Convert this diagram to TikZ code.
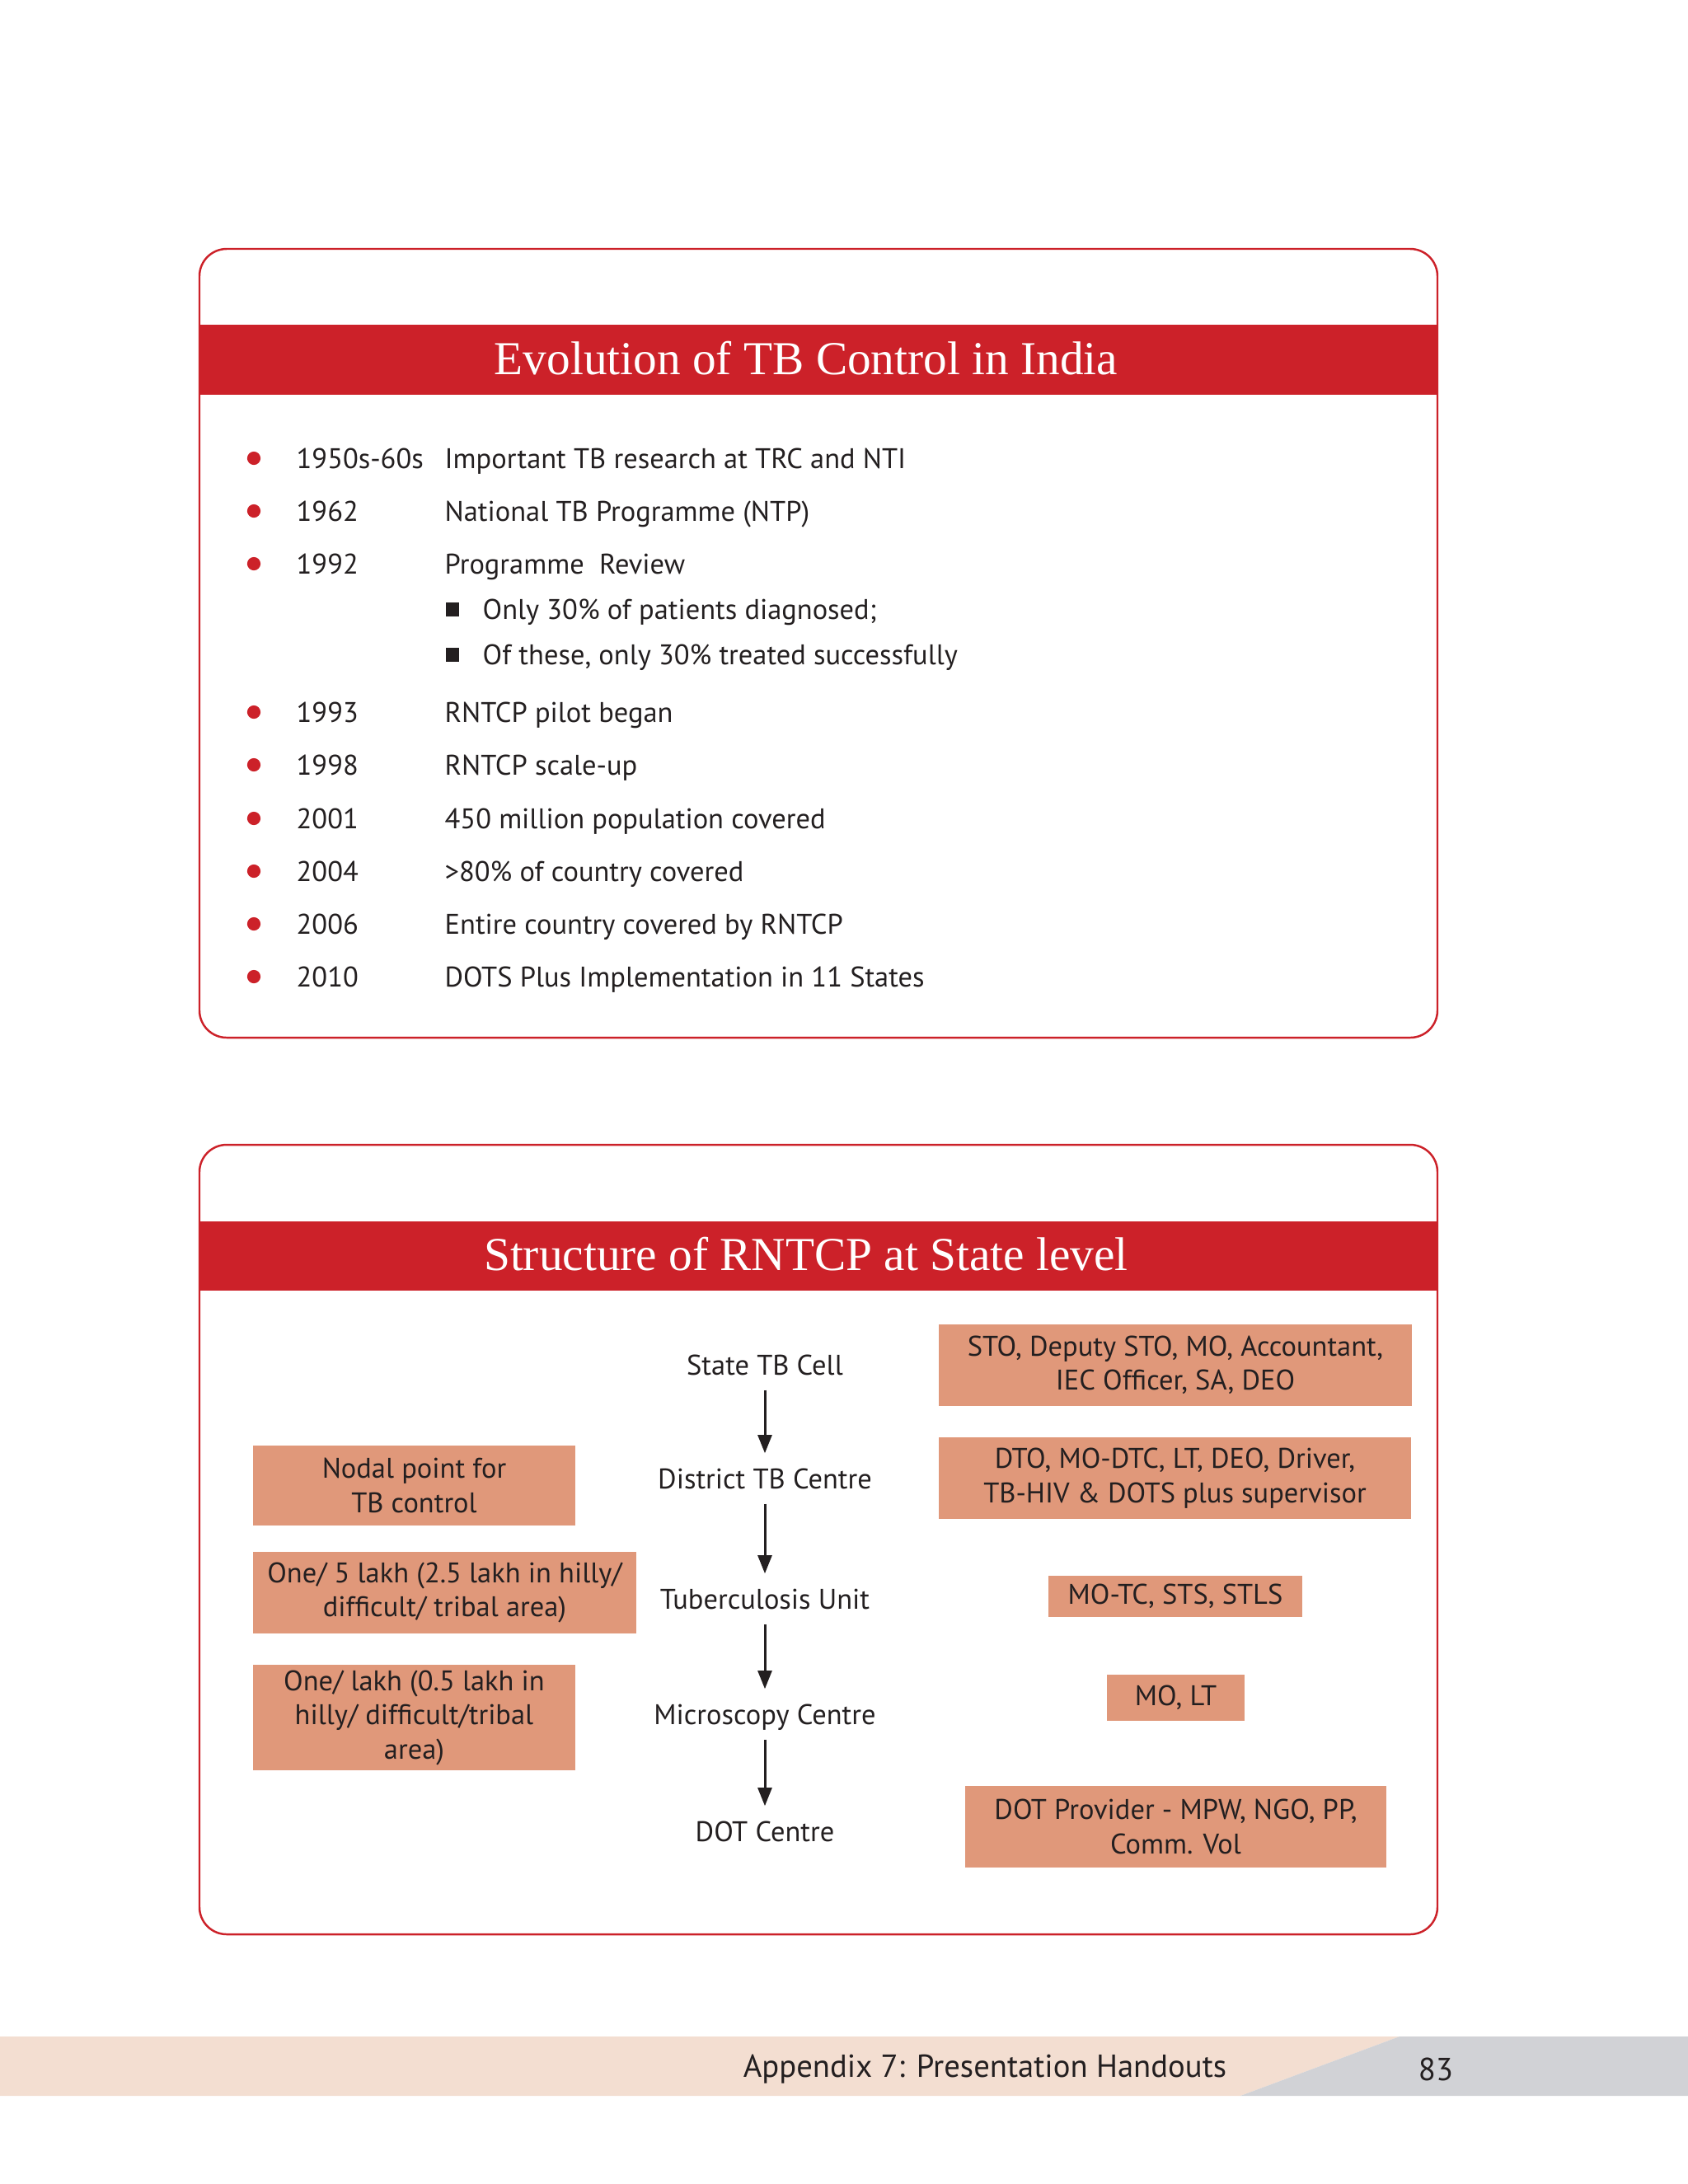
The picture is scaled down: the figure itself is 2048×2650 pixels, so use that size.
\documentclass[tikz,border=0pt]{standalone}
\usepackage{fontspec}
\setmainfont{PT Sans}
\newfontfamily\titlefont{Liberation Serif}
\usetikzlibrary{arrows.meta}

\definecolor{tbred}{HTML}{CC2129}
\definecolor{salmon}{HTML}{E0987A}
\definecolor{footpeach}{HTML}{F3DED1}
\definecolor{footgray}{HTML}{D1D2D6}
\definecolor{ink}{HTML}{231F20}

\begin{document}
\begin{tikzpicture}[x=0.01cm, y=-0.01cm,
    every node/.style={text=ink, font=\fontsize{9.8}{11.8}\selectfont},
    panel/.style={draw=tbred, line width=0.7pt, rounded corners=0.33cm},
    ttl/.style={anchor=base, text=white, font=\titlefont\fontsize{16.3}{18}\selectfont},
    listtxt/.style={anchor=base west, inner sep=0},
    flow/.style={inner sep=0, minimum height=0.6cm, text height=0.7em, text depth=0pt},
    salbox/.style={fill=salmon, inner sep=0, align=center},
    flowarrow/.style={-{Triangle[length=6.3pt, width=4.8pt]}, line width=0.85pt, draw=ink}]
    \useasboundingbox (0,0) rectangle (2048,2650);

    % Panel 1
    \fill[tbred] (242,394) rectangle (1744,479);
    \draw[panel] (242,302) rectangle (1744,1259);
    \node[ttl] (evtitle) at (978,454) {Evolution of TB Control in India};

    % Body - roky
    \filldraw[tbred] (308,556) circle (2.1pt);
    \node[listtxt] (yr1) at (359,568) {1950s-60s};
    \node[listtxt] (ds1) at (539,568) {Important TB research at TRC and NTI};
    \filldraw[tbred] (308,620) circle (2.1pt);
    \node[listtxt] (yr2) at (359,632) {1962};
    \node[listtxt] (ds2) at (539,632) {National TB Programme (NTP)};
    \filldraw[tbred] (308,684) circle (2.1pt);
    \node[listtxt] (yr3) at (359,696) {1992};
    \node[listtxt] (ds3) at (539,696) {Programme\ \ Review};
    % 1992 podbody
    \fill[ink] (541,731) rectangle (557,748);
    \node[listtxt] (sub1) at (585,751) {Only 30\% of patients diagnosed;};
    \fill[ink] (541,786) rectangle (557,803);
    \node[listtxt] (sub2) at (585,806) {Of these, only 30\% treated successfully};
    \filldraw[tbred] (308,864) circle (2.1pt);
    \node[listtxt] (yr4) at (359,876) {1993};
    \node[listtxt] (ds4) at (539,876) {RNTCP pilot began};
    \filldraw[tbred] (308,928) circle (2.1pt);
    \node[listtxt] (yr5) at (359,940) {1998};
    \node[listtxt] (ds5) at (539,940) {RNTCP scale-up};
    \filldraw[tbred] (308,993) circle (2.1pt);
    \node[listtxt] (yr6) at (359,1005) {2001};
    \node[listtxt] (ds6) at (539,1005) {450 million population covered};
    \filldraw[tbred] (308,1057) circle (2.1pt);
    \node[listtxt] (yr7) at (359,1069) {2004};
    \node[listtxt] (ds7) at (539,1069) {>80\% of country covered};
    \filldraw[tbred] (308,1121) circle (2.1pt);
    \node[listtxt] (yr8) at (359,1133) {2006};
    \node[listtxt] (ds8) at (539,1133) {Entire country covered by RNTCP};
    \filldraw[tbred] (308,1185) circle (2.1pt);
    \node[listtxt] (yr9) at (359,1197) {2010};
    \node[listtxt] (ds9) at (539,1197) {DOTS Plus Implementation in 11 States};

    % Panel 2
    \fill[tbred] (242,1482) rectangle (1744,1566);
    \draw[panel] (242,1389) rectangle (1744,2347);
    \node[ttl] (sttitle) at (978,1541) {Structure of RNTCP at State level};

    % Stredni sloupec
    \node[flow] (stc) at (928,1656) {State TB Cell};
    \node[flow] (dtc) at (928,1794) {District TB Centre};
    \node[flow] (tbu) at (928,1940) {Tuberculosis Unit};
    \node[flow] (mic) at (928,2080) {Microscopy Centre};
    \node[flow] (dot) at (928,2222) {DOT Centre};
    \draw[flowarrow] (stc) -- (dtc);
    \draw[flowarrow] (dtc) -- (tbu);
    \draw[flowarrow] (tbu) -- (mic);
    \draw[flowarrow] (mic) -- (dot);

    % Personal (vpravo)
    \node[salbox, minimum width=5.74cm, minimum height=0.99cm] (stcstaff) at (1426,1656.5) {STO, Deputy STO, MO, Accountant,\\IEC Officer, SA, DEO};
    \node[salbox, minimum width=5.73cm, minimum height=0.99cm] (dtcstaff) at (1425.5,1793.5) {DTO, MO-DTC, LT, DEO, Driver,\\TB-HIV \& DOTS plus supervisor};
    \node[salbox, minimum width=3.08cm, minimum height=0.5cm] (tbustaff) at (1426,1937) {MO-TC, STS, STLS};
    \node[salbox, minimum width=1.67cm, minimum height=0.56cm] (micstaff) at (1426.5,2060) {MO, LT};
    \node[salbox, minimum width=5.11cm, minimum height=0.99cm] (dotstaff) at (1426.5,2216.5) {DOT Provider - MPW, NGO, PP,\\Comm. Vol};

    % Pokryti (vlevo)
    \node[salbox, minimum width=3.91cm, minimum height=0.97cm] (dtcnote) at (502.5,1802.5) {Nodal point for\\TB control};
    \node[salbox, minimum width=4.65cm, minimum height=0.99cm] (tbunote) at (539.5,1932.5) {One/ 5 lakh (2.5 lakh in hilly/\\difficult/ tribal area)};
    \node[salbox, minimum width=3.91cm, minimum height=1.28cm] (micnote) at (502.5,2084) {One/ lakh (0.5 lakh in\\hilly/ difficult/tribal\\area)};

    % Paticka
    \fill[footpeach] (0,2471) -- (1698,2471) -- (1505,2543) -- (0,2543) -- cycle;
    \fill[footgray] (1698,2471) -- (2048,2471) -- (2048,2543) -- (1505,2543) -- cycle;
    \node[font=\fontsize{11}{13}\selectfont] (foottxt) at (1195,2511) {Appendix 7: Presentation Handouts};
    \node[font=\fontsize{11}{13}\selectfont] (pageno) at (1742,2511) {83};

\end{tikzpicture}
\end{document}
